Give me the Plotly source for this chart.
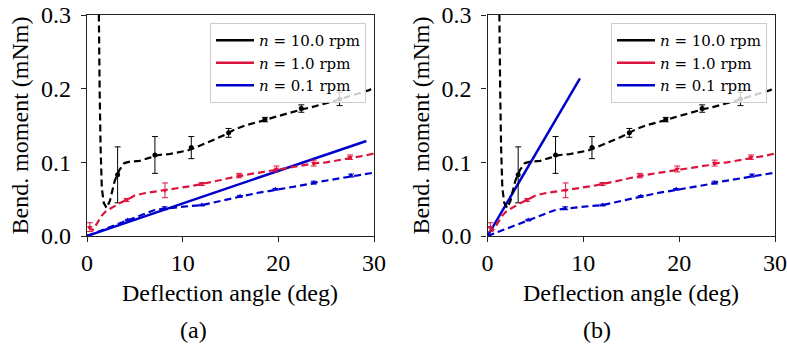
import plotly.graph_objects as go

# Bending moment vs deflection angle for three rotation speeds
angle_10 = [1.12, 1.22, 1.32, 1.42, 1.55, 1.75, 2.05, 2.4, 2.9, 3.4, 3.9, 4.5, 5.5, 6.5, 7.5, 8.5,
            9.5, 10.5, 11.5, 12.5, 13.5, 14.5, 15.5, 16.5, 17.5, 18.5, 19.5, 20.5, 21.5,
            22.5, 23.5, 24.5, 25.5, 26.5, 27.5, 28.5, 29.5, 30.0]
moment_10 = [0.45, 0.30, 0.20, 0.12, 0.065, 0.045, 0.038, 0.048, 0.075, 0.09, 0.099, 0.101, 0.102,
             0.106, 0.11, 0.111, 0.113, 0.116, 0.121, 0.126, 0.132, 0.138, 0.145, 0.15,
             0.153, 0.157, 0.161, 0.165, 0.168, 0.172, 0.175, 0.178, 0.182, 0.186, 0.19,
             0.193, 0.198, 0.202]

angle_1 = [0.1, 0.6, 1.0, 1.5, 2.0, 2.75, 3.5, 4.15, 5.0, 6.0, 7.0, 8.0, 9.0, 10.0, 11.0, 12.0,
           13.0, 14.0, 15.0, 16.0, 17.0, 18.0, 19.0, 20.0, 21.0, 22.0, 23.0, 24.0, 25.0,
           26.0, 27.0, 28.0, 29.0, 30.0]
moment_1 = [0.012, 0.008, 0.016, 0.027, 0.034, 0.04, 0.045, 0.049, 0.055, 0.058, 0.06, 0.062,
            0.063, 0.066, 0.068, 0.0706, 0.073, 0.076, 0.079, 0.082, 0.084, 0.086, 0.088,
            0.091, 0.092, 0.094, 0.096, 0.099, 0.1, 0.102, 0.105, 0.107, 0.109, 0.112]

angle_01 = [0, 1, 2, 3, 4, 5, 6, 7, 8, 9, 10, 11, 12, 13, 14, 15, 16, 17, 18, 19, 20, 21, 22,
            23, 24, 25, 26, 27, 28, 29, 30]
moment_01 = [0.0, 0.005, 0.01, 0.016, 0.021, 0.026, 0.031, 0.035, 0.037, 0.038, 0.039, 0.041,
             0.042, 0.045, 0.048, 0.051, 0.054, 0.056, 0.059, 0.061, 0.063, 0.066, 0.068,
             0.07, 0.073, 0.075, 0.077, 0.08, 0.082, 0.084, 0.086]

# Averaged points with standard deviation
pts_angle_10 = [3.2, 7.1, 10.9, 14.8, 18.6, 22.4, 26.4]
pts_moment_10 = [0.083, 0.11, 0.12, 0.14, 0.158, 0.173, 0.186]
pts_err_10 = [0.038, 0.025, 0.015, 0.006, 0.003, 0.005, 0.009]

pts_angle_1 = [0.3, 4.15, 8.15, 12.0, 15.9, 19.8, 23.7, 27.5]
pts_moment_1 = [0.012, 0.049, 0.062, 0.0706, 0.082, 0.091, 0.099, 0.107]
pts_err_1 = [0.006, 0.002, 0.01, 0.002, 0.003, 0.004, 0.004, 0.003]

pts_angle_01 = [0.0, 4.26, 8.1, 12.0, 16.0, 19.7, 23.7, 27.6]
pts_moment_01 = [0.0, 0.0217, 0.0376, 0.042, 0.054, 0.0634, 0.0724, 0.082]
pts_err_01 = [0.001, 0.001, 0.002, 0.001, 0.001, 0.001, 0.002, 0.002]

# Linear fits of the n = 0.1 rpm case
fit_a_angle = [0.0, 29.2]
fit_a_moment = [0.0, 0.129]
fit_b_angle = [0.0, 9.65]
fit_b_moment = [0.0, 0.214]

labels = ["<i>n</i> = 10.0 rpm", "<i>n</i> = 1.0 rpm", "<i>n</i> = 0.1 rpm"]
colors = ["#000000", "#dc143c", "#0000cd"]

FONT = "Liberation Serif"
LEGEND_FONT = "DejaVu Serif"
DASH = "7px,4px"

fig = go.Figure()

curves = [
    (angle_10, moment_10, pts_angle_10, pts_moment_10, pts_err_10, "circle"),
    (angle_1, moment_1, pts_angle_1, pts_moment_1, pts_err_1, "triangle-down"),
    (angle_01, moment_01, pts_angle_01, pts_moment_01, pts_err_01, "triangle-up"),
]

panels = [("x", "y", fit_a_angle, fit_a_moment, "legend"),
          ("x2", "y2", fit_b_angle, fit_b_moment, "legend2")]

for xa, ya, fx, fy, leg in panels:
    # fit line under the measured curves
    fig.add_trace(go.Scatter(x=fx, y=fy, mode="lines", xaxis=xa, yaxis=ya,
                             line=dict(color=colors[2], width=2.5), showlegend=False))
    for (cx, cy, px, py, pe, sym), col in zip(curves, colors):
        fig.add_trace(go.Scatter(x=cx, y=cy, mode="lines", xaxis=xa, yaxis=ya,
                                 line=dict(color=col, width=2.2, dash=DASH),
                                 showlegend=False))
        fig.add_trace(go.Scatter(x=px, y=py, mode="markers", xaxis=xa, yaxis=ya,
                                 marker=dict(color=col, size=5, symbol=sym),
                                 error_y=dict(type="data", array=pe, color=col,
                                              thickness=1, width=3),
                                 showlegend=False))
    # legend entries drawn as solid lines
    for lab, col in zip(labels, colors):
        fig.add_trace(go.Scatter(x=[None], y=[None], mode="lines", xaxis=xa, yaxis=ya,
                                 name=lab, legend=leg,
                                 line=dict(color=col, width=2.5)))

W, H = 787, 352
left_dom = [87 / W, 374 / W]
right_dom = [487.5 / W, 775 / W]
y_dom = [(H - 236) / H, (H - 15) / H]

axis_common = dict(showline=True, mirror=True, linecolor="#222222", linewidth=1.2,
                   ticks="outside", ticklen=5, tickwidth=1.2, tickcolor="#222222",
                   showgrid=False, zeroline=False, automargin=False,
                   tickfont=dict(family=FONT, size=24, color="black"))

xaxis_common = dict(axis_common, range=[0, 30], tickvals=[0, 10, 20, 30])
yaxis_common = dict(axis_common, range=[0, 0.3], tickvals=[0, 0.1, 0.2, 0.3],
                    tickformat=".1f", ticklabelstandoff=5)

legend_common = dict(bgcolor="rgba(255,255,255,0.8)", bordercolor="#cccccc", borderwidth=1,
                     font=dict(family=LEGEND_FONT, size=15, color="black"),
                     xanchor="right", yanchor="top", tracegroupgap=0,
                     itemwidth=38)

annotations = []
title_font = dict(family=FONT, size=24, color="black")
for xc, ylab_x in [((87 + 374) / 2, 19), ((487.5 + 775) / 2, 420)]:
    annotations.append(dict(x=xc / W, y=(H - 293) / H, xref="paper", yref="paper",
                            xanchor="center", yanchor="middle",
                            text="Deflection angle (deg)", showarrow=False, font=title_font))
    annotations.append(dict(x=ylab_x / W, y=(H - 125.5) / H, xref="paper", yref="paper",
                            xanchor="center", yanchor="middle",
                            text="Bend. moment (mNm)", textangle=-90, showarrow=False,
                            font=title_font))
for xc, sub in [(193, "(a)"), (597, "(b)")]:
    annotations.append(dict(x=xc / W, y=(H - 330) / H, xref="paper", yref="paper",
                            xanchor="center", yanchor="middle",
                            text=sub, showarrow=False, font=title_font))

fig.update_layout(
    width=W, height=H,
    margin=dict(l=0, r=0, t=0, b=0, autoexpand=False),
    paper_bgcolor="white", plot_bgcolor="white",
    xaxis=dict(xaxis_common, domain=left_dom, anchor="y"),
    yaxis=dict(yaxis_common, domain=y_dom, anchor="x"),
    xaxis2=dict(xaxis_common, domain=right_dom, anchor="y2"),
    yaxis2=dict(yaxis_common, domain=y_dom, anchor="x2"),
    legend=dict(legend_common, x=366 / W, y=(H - 23) / H),
    legend2=dict(legend_common, x=767 / W, y=(H - 23) / H),
    annotations=annotations,
    font=dict(family=FONT),
)

fig.write_html("out.html")
